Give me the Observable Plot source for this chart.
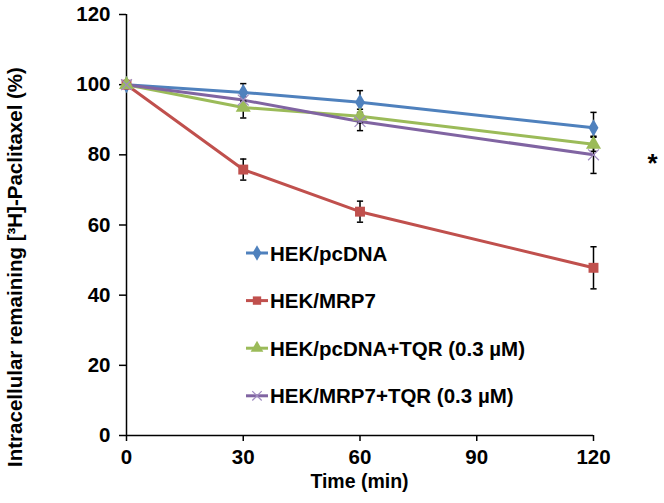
<!DOCTYPE html>
<html>
<head>
<meta charset="utf-8">
<script src="https://cdn.jsdelivr.net/npm/d3@7"></script>
<script src="https://cdn.jsdelivr.net/npm/@observablehq/plot@0.6"></script>
<style>
  html, body { margin: 0; padding: 0; background: #fff; }
  #chart { width: 664px; height: 503px; }
</style>
</head>
<body>
<div id="chart"></div>
<script>
// ---- data ----
const times = [0, 30, 60, 120];
const seriesNames = ["HEK/pcDNA", "HEK/MRP7", "HEK/pcDNA+TQR (0.3 µM)", "HEK/MRP7+TQR (0.3 µM)"];
const pcdnaValues = [100, 97.8, 95.0, 87.7];
const pcdnaErrors = [0, 2.5, 3.3, 4.4];
const mrp7Values = [100, 75.8, 63.8, 47.8];
const mrp7Errors = [0, 3.0, 3.0, 6.0];
const pcdnaTqrValues = [100, 93.5, 91.0, 83.0];
const pcdnaTqrErrors = [0, 3.0, 2.0, 2.0];
const mrp7TqrValues = [100, 95.6, 89.5, 80.0];
const mrp7TqrErrors = [0, 2.0, 2.6, 5.3];
const xTicks = [0, 30, 60, 90, 120];
const yTicks = [0, 20, 40, 60, 80, 100, 120];
const significanceLabel = "*";
const xLabel = "Time (min)";
const yLabel = "Intracellular remaining [³H]-Paclitaxel (%)";

const colors = ["#4F81BD", "#C0504D", "#9BBB59", "#8064A2"];
const valueSets = [pcdnaValues, mrp7Values, pcdnaTqrValues, mrp7TqrValues];
const errorSets = [pcdnaErrors, mrp7Errors, pcdnaTqrErrors, mrp7TqrErrors];

const rows = [];
seriesNames.forEach((s, i) => {
  times.forEach((t, j) => {
    rows.push({series: s, idx: i, time: t, value: valueSets[i][j], err: errorSets[i][j]});
  });
});
const errRows = rows.filter(d => d.err > 0);

const capSymbol = {
  draw(context, size) {
    const w = Math.sqrt(size) / 2;
    context.moveTo(-w, 0);
    context.lineTo(w, 0);
  }
};

const font = "'Liberation Sans', Arial, sans-serif";

const chart = Plot.plot({
  width: 664,
  height: 503,
  marginLeft: 126,
  marginRight: 71,
  marginTop: 14,
  marginBottom: 68,
  style: {fontFamily: font, fontSize: "20px", fontWeight: "bold", background: "#fff", color: "#000"},
  x: {domain: [0, 120], label: null},
  y: {domain: [0, 120], label: null},
  marks: [
    Plot.axisY({ticks: yTicks, tickSize: 7, tickPadding: 9, label: null, fontSize: 20.5, fontWeight: "bold", strokeWidth: 1.5}),
    Plot.axisX({ticks: xTicks, tickSize: 6, tickPadding: 8, label: null, fontSize: 20.5, fontWeight: "bold", strokeWidth: 1.5}),
    Plot.ruleX([0], {stroke: "#000", strokeWidth: 1.5}),
    Plot.ruleY([0], {stroke: "#000", strokeWidth: 1.5}),
    Plot.line(rows, {x: "time", y: "value", z: "series", stroke: d => colors[d.idx], strokeWidth: 3}),
    Plot.ruleX(errRows, {x: "time", y1: d => d.value - d.err, y2: d => d.value + d.err, stroke: "#000", strokeWidth: 1.5}),
    Plot.dot(errRows, {x: "time", y: d => d.value + d.err, symbol: capSymbol, r: 3.5, stroke: "#000", strokeWidth: 1.5, fill: "none"}),
    Plot.dot(errRows, {x: "time", y: d => d.value - d.err, symbol: capSymbol, r: 3.5, stroke: "#000", strokeWidth: 1.5, fill: "none"}),
    Plot.dot(rows.filter(d => d.idx === 0), {x: "time", y: "value", symbol: "diamond", r: 5.2, fill: colors[0]}),
    Plot.dot(rows.filter(d => d.idx === 1), {x: "time", y: "value", symbol: "square", r: 5.6, fill: colors[1]}),
    Plot.dot(rows.filter(d => d.idx === 2), {x: "time", y: "value", symbol: "triangle", r: 5.6, fill: colors[2]}),
    Plot.dot(rows.filter(d => d.idx === 3), {x: "time", y: "value", symbol: "times", r: 5, stroke: "#A08CC0", strokeWidth: 1.2}),
    Plot.text(rows.filter(d => d.idx === 3 && d.time === 120), {x: "time", y: "value", text: () => significanceLabel, dx: 59, dy: 9, fontSize: 26, fontWeight: "bold", fill: "#000"})
  ]
});

document.getElementById("chart").appendChild(chart);

// legend, axis titles
const svg = d3.select(chart);
const legend = svg.append("g").attr("font-family", font).attr("font-weight", "bold")
  .attr("font-size", 20.5).attr("text-anchor", "start");
const legendX = 246, legendY0 = 253, legendStep = 47.6;
seriesNames.forEach((name, i) => {
  const cy = legendY0 + i * legendStep;
  legend.append("line").attr("x1", legendX).attr("x2", legendX + 22).attr("y1", cy).attr("y2", cy)
    .attr("stroke", colors[i]).attr("stroke-width", 3);
  const symType = [d3.symbolDiamond, d3.symbolSquare, d3.symbolTriangle, d3.symbolTimes][i];
  const sym = legend.append("path").attr("transform", `translate(${legendX + 11},${cy})`)
    .attr("d", d3.symbol(symType, i === 3 ? 60 : 70)());
  if (i === 3) sym.attr("fill", "none").attr("stroke", "#A08CC0").attr("stroke-width", 1.2);
  else sym.attr("fill", colors[i]);
  legend.append("text").attr("x", legendX + 24).attr("y", cy + 7.5).attr("fill", "#000").text(name);
});

svg.append("text").attr("x", 359.5).attr("y", 488).attr("text-anchor", "middle")
  .attr("font-family", font).attr("font-weight", "bold").attr("font-size", 19.5).attr("fill", "#000").text(xLabel);
svg.append("text").attr("transform", "translate(22,267) rotate(-90)").attr("text-anchor", "middle")
  .attr("font-family", font).attr("font-weight", "bold").attr("font-size", 20.5).attr("fill", "#000").text(yLabel);
</script>
</body>
</html>
